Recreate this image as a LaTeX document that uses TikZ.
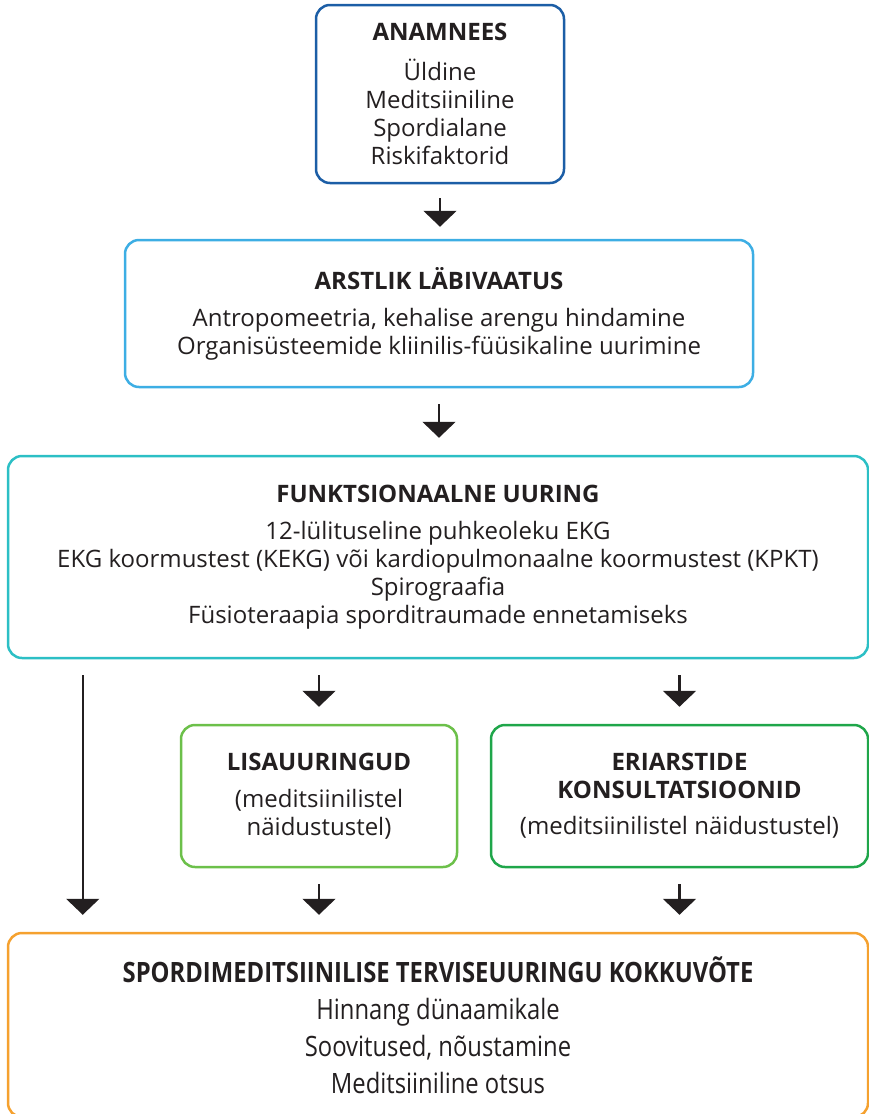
\documentclass[tikz,border=0pt]{standalone}
\usepackage{fontspec}
\setmainfont{Open Sans}
\newfontfamily\narrowfont[FakeStretch=0.85]{Open Sans}
\usetikzlibrary{arrows.meta,positioning}
\definecolor{FlowInk}{HTML}{231F20}
\definecolor{FlowNavy}{HTML}{1C5EA6}
\definecolor{FlowSky}{HTML}{3DAEE4}
\definecolor{FlowTeal}{HTML}{2CBFC5}
\definecolor{FlowLime}{HTML}{6CC04A}
\definecolor{FlowGreen}{HTML}{1FA64A}
\definecolor{FlowOrange}{HTML}{F5A12F}
\tikzset{panel/.style={draw=#1,line width=2.5pt,rounded corners=14pt,fill=white,align=center,inner sep=0pt,text=FlowInk,font=\fontsize{24}{28}\selectfont}}

\begin{document}
\begin{tikzpicture}[x=1pt,y=-1pt,
  link/.style={-{Triangle[width=33pt,length=16pt]},line width=2.2pt,FlowInk,shorten <=16pt,shorten >=17pt}]
\useasboundingbox (0,0) rectangle (869,1114);
% Main column
\node[panel=FlowNavy,minimum width=248pt,minimum height=178pt] (anam) at (440,94) {\textbf{ANAMNEES}\\[12pt]Üldine\\Meditsiiniline\\Spordialane\\Riskifaktorid};
\node[panel=FlowSky,minimum width=628pt,minimum height=147pt] (exam) at (439,313.5) {\textbf{ARSTLIK LÄBIVAATUS}\\[9pt]Antropomeetria, kehalise arengu hindamine\\Organisüsteemide kliinilis-füüsikaline uurimine};
\node[panel=FlowTeal,minimum width=860pt,minimum height=202pt] (funk) at (438,557) {\textbf{FUNKTSIONAALNE UURING}\\[9pt]12-lülituseline puhkeoleku EKG\\EKG koormustest (KEKG) või kardiopulmonaalne koormustest (KPKT)\\Spirograafia\\Füsioteraapia sporditraumade ennetamiseks};
\draw[link,shorten <=14pt,shorten >=12pt] (anam.south) -- (anam.south |- exam.north);
\draw[link] (exam.south) -- (exam.south |- funk.north);
% Side branches
\node[panel=FlowLime,minimum width=276pt,minimum height=142pt] (extra) at (319,796) {\textbf{LISAUURINGUD}\\[9pt](meditsiinilistel\\näidustustel)};
\node[panel=FlowGreen,minimum width=377pt,minimum height=142pt] (consult) at (679.5,796) {\textbf{ERIARSTIDE}\\\textbf{KONSULTATSIOONID}\\[8pt](meditsiinilistel näidustustel)};
\node[panel=FlowOrange,minimum width=860pt,minimum height=184pt,font=\fontsize{28}{37}\selectfont\narrowfont] (summ) at (438,1025) {\bfseries SPORDIMEDITSIINILISE TERVISEUURINGU KOKKUVÕTE\\Hinnang dünaamikale\\Soovitused, nõustamine\\Meditsiiniline otsus};
\draw[link] (extra.north |- funk.south) -- (extra.north);
\draw[link] (consult.north |- funk.south) -- (consult.north);
\draw[link] ([xshift=76pt]funk.south west) -- ([xshift=76pt]summ.north west);
\draw[link] (extra.south) -- (extra.south |- summ.north);
\draw[link] (consult.south) -- (consult.south |- summ.north);
\end{tikzpicture}
\end{document}
